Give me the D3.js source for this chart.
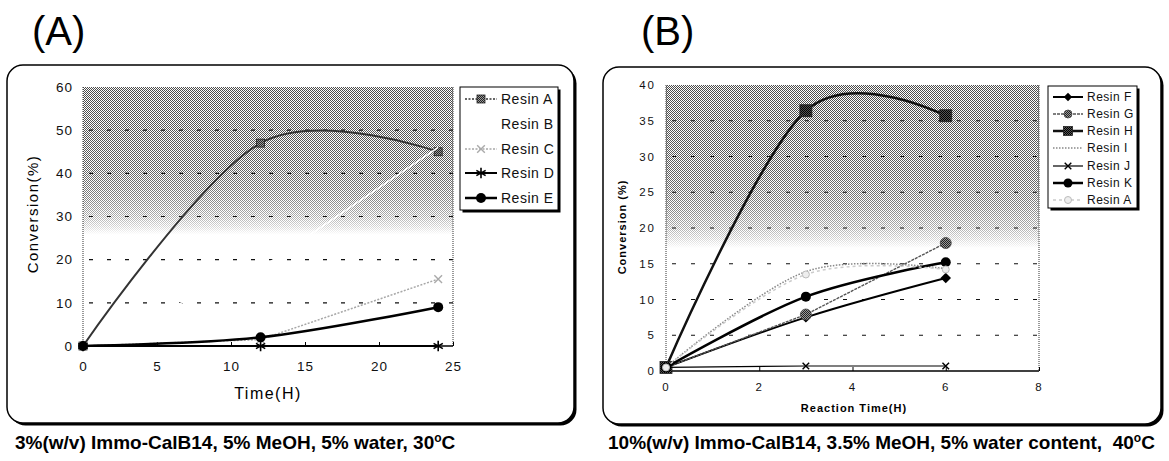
<!DOCTYPE html>
<html>
<head>
<meta charset="utf-8">
<script src="https://cdn.jsdelivr.net/npm/d3@7"></script>
<style>
  body { margin: 0; background: #fff; }
  svg { display: block; font-family: "Liberation Sans", Arial, sans-serif; }
</style>
</head>
<body>
<div id="chart"></div>
<script>
// ---- panel A data (time in hours) ----
const timeA = [0, 12, 24];
const resinA_A = [0, 47, 45];
const resinB_A = [0, 18, 46];
const resinC_A = [0, 1.5, 15.5];
const resinD_A = [0, 0, 0];
const resinE_A = [0, 2, 9];
const yTicksA = [0, 10, 20, 30, 40, 50, 60];
const xTicksA = [0, 5, 10, 15, 20, 25];

// ---- panel B data ----
const timeB = [0, 3, 6];
const resinF_B = [0.5, 7.5, 13];
const resinG_B = [0.5, 7.9, 17.9];
const resinH_B = [0.5, 36.4, 35.7];
const resinI_B = [0.5, 13.9, 14.3];
const resinJ_B = [0.5, 0.7, 0.7];
const resinK_B = [0.5, 10.4, 15.2];
const resinA_B = [0.5, 13.5, 14.2];
const yTicksB = [0, 5, 10, 15, 20, 25, 30, 35, 40];
const xTicksB = [0, 2, 4, 6, 8];

const W = 1169, H = 461;

const svg = d3.select("#chart")
  .append("svg")
  .attr("width", W)
  .attr("height", H);

const defs = svg.append("defs");

// dithered gray like the scanned excel background
const dith = defs.append("pattern")
  .attr("id", "dith").attr("width", 2).attr("height", 2)
  .attr("patternUnits", "userSpaceOnUse");
dith.append("rect").attr("width", 1).attr("height", 1).attr("fill", "#000");
dith.append("rect").attr("x", 1).attr("y", 1).attr("width", 1).attr("height", 1).attr("fill", "#000");

const hatch = defs.append("pattern")
  .attr("id", "hatch").attr("width", 2).attr("height", 2)
  .attr("patternUnits", "userSpaceOnUse");
hatch.append("rect").attr("width", 2).attr("height", 2).attr("fill", "#9a9a9a");
hatch.append("rect").attr("width", 1).attr("height", 1).attr("fill", "#222");
hatch.append("rect").attr("x", 1).attr("y", 1).attr("width", 1).attr("height", 1).attr("fill", "#222");

const hatchDark = defs.append("pattern")
  .attr("id", "hatchDark").attr("width", 2).attr("height", 2)
  .attr("patternUnits", "userSpaceOnUse");
hatchDark.append("rect").attr("width", 2).attr("height", 2).attr("fill", "#555");
hatchDark.append("rect").attr("width", 1).attr("height", 1).attr("fill", "#000");
hatchDark.append("rect").attr("x", 1).attr("y", 1).attr("width", 1).attr("height", 1).attr("fill", "#000");

const fade = defs.append("linearGradient")
  .attr("id", "fade").attr("x1", 0).attr("y1", 0).attr("x2", 0).attr("y2", 1);
[[0, "#b4b4b4"], [0.3, "#a0a0a0"], [0.42, "#808080"], [0.5, "#505050"],
 [0.54, "#282828"], [0.57, "#000"], [1, "#000"]].forEach(([o, c]) =>
  fade.append("stop").attr("offset", o).attr("stop-color", c));

const mask = defs.append("mask")
  .attr("id", "fadeMask")
  .attr("maskContentUnits", "objectBoundingBox");
mask.append("rect").attr("width", 1).attr("height", 1).attr("fill", "url(#fade)");

function marker(g, type, cx, cy, s) {
  if (type === "hsq" || type === "hsqDark") {
    g.append("rect")
      .attr("x", cx - s / 2).attr("y", cy - s / 2)
      .attr("width", s).attr("height", s)
      .attr("fill", type === "hsq" ? "url(#hatch)" : "url(#hatchDark)")
      .attr("stroke", "#222").attr("stroke-width", 0.8);
  } else if (type === "dot") {
    g.append("circle").attr("cx", cx).attr("cy", cy).attr("r", s / 2).attr("fill", "#000");
  } else if (type === "hcirc") {
    g.append("circle").attr("cx", cx).attr("cy", cy).attr("r", s / 2)
      .attr("fill", "url(#hatch)").attr("stroke", "#444").attr("stroke-width", 0.8);
  } else if (type === "ocirc") {
    g.append("circle").attr("cx", cx).attr("cy", cy).attr("r", s / 2)
      .attr("fill", "#eee").attr("stroke", "#bbb").attr("stroke-width", 1);
  } else if (type === "dia") {
    g.append("path")
      .attr("d", d3.symbol(d3.symbolSquare, s * s * 0.55)())
      .attr("transform", `translate(${cx},${cy}) rotate(45)`)
      .attr("fill", "#000");
  } else if (type === "star") {
    g.append("path")
      .attr("d", d3.symbol(d3.symbolAsterisk, s)())
      .attr("transform", `translate(${cx},${cy})`)
      .attr("fill", "none").attr("stroke", "#000").attr("stroke-width", 1.6);
  } else if (type === "times" || type === "timesLight") {
    g.append("path")
      .attr("d", d3.symbol(d3.symbolTimes, s)())
      .attr("transform", `translate(${cx},${cy})`)
      .attr("fill", "none")
      .attr("stroke", type === "times" ? "#000" : "#aaa")
      .attr("stroke-width", 1.4);
  }
}

function drawPanel(p) {
  const g = svg.append("g");

  // rounded frame with a heavy shadow on the right / bottom
  g.append("rect")
    .attr("x", p.frame[0] + 2.5).attr("y", p.frame[1] + 2.5)
    .attr("width", p.frame[2]).attr("height", p.frame[3])
    .attr("rx", 16).attr("fill", "#000");
  g.append("rect")
    .attr("x", p.frame[0]).attr("y", p.frame[1])
    .attr("width", p.frame[2]).attr("height", p.frame[3])
    .attr("rx", 16).attr("fill", "#fff")
    .attr("stroke", "#000").attr("stroke-width", 1.5);

  g.append("text")
    .attr("x", p.tagX).attr("y", 45)
    .attr("font-size", 40)
    .text(p.tag);

  const x = d3.scaleLinear().domain(p.xDomain).range([p.left, p.right]);
  const y = d3.scaleLinear().domain(p.yDomain).range([p.bottom, p.top]);

  // plot background
  g.append("rect")
    .attr("x", p.left).attr("y", p.top)
    .attr("width", p.right - p.left).attr("height", p.bottom - p.top)
    .attr("fill", "url(#dith)")
    .attr("mask", "url(#fadeMask)");

  // dashed grid
  g.selectAll(".grid")
    .data(p.yTicks.filter((d) => d > p.yDomain[0] && d < p.yDomain[1]))
    .join("line")
    .attr("x1", p.left + 6).attr("x2", p.right)
    .attr("y1", (d) => y(d)).attr("y2", (d) => y(d))
    .attr("stroke", "#111").attr("stroke-width", 1.2)
    .attr("stroke-dasharray", p.gridDash);

  // plot edges
  g.append("line")
    .attr("x1", p.right).attr("x2", p.right).attr("y1", p.top).attr("y2", p.bottom)
    .attr("stroke", "#333").attr("stroke-dasharray", "1,1");
  g.append("line")
    .attr("x1", p.left).attr("x2", p.left).attr("y1", p.top).attr("y2", p.bottom)
    .attr("stroke", "#333").attr("stroke-dasharray", "1,1");

  // axes
  const yAxis = g.append("g")
    .attr("transform", `translate(${p.left},0)`)
    .call(d3.axisLeft(y).tickValues(p.yTicks).tickSize(0).tickPadding(p.yPad));
  const xAxis = g.append("g")
    .attr("transform", `translate(0,${p.bottom})`)
    .call(d3.axisBottom(x).tickValues(p.xTicks).tickSize(-4).tickPadding(p.xPad));
  [yAxis, xAxis].forEach((a) => {
    a.select(".domain").remove();
    a.selectAll("text")
      .attr("font-family", "'Liberation Sans', Arial, sans-serif")
      .attr("font-size", p.tickFont)
      .attr("letter-spacing", p.tickSpacing)
      .attr("fill", "#111");
  });
  xAxis.selectAll("line").attr("stroke", "#000");
  g.append("line")
    .attr("x1", p.left).attr("x2", p.right).attr("y1", p.bottom).attr("y2", p.bottom)
    .attr("stroke", "#000").attr("stroke-width", 1.5);

  // axis titles
  g.append("text")
    .attr("x", p.xTitle[0]).attr("y", p.xTitle[1])
    .attr("text-anchor", "middle")
    .attr("font-size", p.xTitleFont)
    .attr("font-weight", p.titleWeight)
    .attr("letter-spacing", p.titleSpacing)
    .text(p.xLabel);
  g.append("text")
    .attr("transform", `translate(${p.yTitle[0]},${p.yTitle[1]}) rotate(-90)`)
    .attr("text-anchor", "middle")
    .attr("font-size", p.yTitleFont)
    .attr("font-weight", p.titleWeight)
    .attr("letter-spacing", p.titleSpacing)
    .text(p.yLabel);

  // series
  p.series.forEach((s) => {
    const pts = p.time.map((t, i) => [x(t), y(s.values[i])]);
    const line = d3.line().curve(s.smooth ? d3.curveCardinal.tension(0) : d3.curveLinear);
    g.append("path")
      .attr("d", line(pts))
      .attr("fill", "none")
      .attr("stroke", s.color)
      .attr("stroke-width", s.width)
      .attr("stroke-dasharray", s.dash || null);
    if (s.marker) pts.forEach(([cx, cy]) => marker(g, s.marker, cx, cy, s.size));
  });

  // legend
  const L = p.legend;
  g.append("rect")
    .attr("x", L.x + 2.5).attr("y", L.y + 2.5).attr("width", L.w).attr("height", L.h)
    .attr("fill", "#000");
  g.append("rect")
    .attr("x", L.x).attr("y", L.y).attr("width", L.w).attr("height", L.h)
    .attr("fill", "#fff").attr("stroke", "#000").attr("stroke-width", 1);
  p.series.forEach((s, i) => {
    const ly = L.rows[i];
    g.append("line")
      .attr("x1", L.x + 5).attr("x2", L.x + 5 + L.lineLen)
      .attr("y1", ly).attr("y2", ly)
      .attr("stroke", s.legendColor || s.color)
      .attr("stroke-width", s.legendWidth || s.width)
      .attr("stroke-dasharray", s.legendDash || s.dash || null);
    if (s.marker) marker(g, s.marker, L.x + 5 + L.lineLen / 2, ly, s.legendSize || s.size);
    g.append("text")
      .attr("x", L.x + 9 + L.lineLen).attr("y", ly)
      .attr("dy", "0.36em")
      .attr("font-size", L.font)
      .attr("letter-spacing", L.spacing)
      .attr("fill", "#111")
      .text(s.name);
  });

  // caption under the frame
  const cap = g.append("text")
    .attr("x", p.caption[0]).attr("y", p.caption[1])
    .attr("font-size", 19).attr("font-weight", "bold");
  cap.append("tspan").text(p.captionText);
  cap.append("tspan").attr("dy", -7).attr("font-size", 12).text("o");
  cap.append("tspan").attr("dy", 7).text("C");
}

drawPanel({
  tag: "(A)", tagX: 32,
  frame: [7, 65, 567, 358],
  left: 83, right: 453, top: 87, bottom: 346,
  xDomain: [0, 25], yDomain: [0, 60],
  xTicks: xTicksA, yTicks: yTicksA,
  yPad: 10, xPad: 15, tickFont: 13.5, tickSpacing: 1,
  gridDash: "4,14",
  time: timeA,
  xLabel: "Time(H)", yLabel: "Conversion(%)",
  xTitle: [268, 399], yTitle: [38, 214],
  xTitleFont: 16, yTitleFont: 15, titleWeight: "normal", titleSpacing: 1.5,
  series: [
    { name: "Resin A", values: resinA_A, smooth: true, color: "#333", width: 2,
      marker: "hsq", size: 8, legendDash: "2,1.5", legendWidth: 1.5 },
    { name: "Resin B", values: resinB_A, color: "#fff", width: 1.5 },
    { name: "Resin C", values: resinC_A, color: "#a8a8a8", width: 1.5, dash: "2,1.5",
      marker: "timesLight", size: 40 },
    { name: "Resin D", values: resinD_A, color: "#000", width: 2, marker: "star", size: 80 },
    { name: "Resin E", values: resinE_A, smooth: true, color: "#000", width: 2.5,
      marker: "dot", size: 10 }
  ],
  legend: { x: 460, y: 87, w: 98, h: 123, rows: [99, 124, 149, 173, 198],
    lineLen: 32, font: 14, spacing: 0.5 },
  caption: [15, 449],
  captionText: "3%(w/v) Immo-CalB14, 5% MeOH, 5% water, 30"
});

drawPanel({
  tag: "(B)", tagX: 641,
  frame: [603, 67, 558, 357],
  left: 666, right: 1039, top: 85, bottom: 371,
  xDomain: [0, 8], yDomain: [0, 40],
  xTicks: xTicksB, yTicks: yTicksB,
  yPad: 10, xPad: 12, tickFont: 11.5, tickSpacing: 2,
  gridDash: "4,15",
  time: timeB,
  xLabel: "Reaction Time(H)", yLabel: "Conversion (%)",
  xTitle: [854, 412], yTitle: [626, 227],
  xTitleFont: 11, yTitleFont: 11, titleWeight: "bold", titleSpacing: 1,
  series: [
    { name: "Resin F", values: resinF_B, smooth: true, color: "#000", width: 2,
      marker: "dia", size: 10, legendSize: 8 },
    { name: "Resin G", values: resinG_B, color: "#555", width: 1.4, dash: "3,1",
      marker: "hcirc", size: 11, legendSize: 8 },
    { name: "Resin H", values: resinH_B, smooth: true, color: "#111", width: 2.5,
      marker: "hsqDark", size: 12, legendSize: 9 },
    { name: "Resin I", values: resinI_B, smooth: true, color: "#888", width: 1.5, dash: "1.5,1.5" },
    { name: "Resin J", values: resinJ_B, color: "#000", width: 1.2, marker: "times", size: 30 },
    { name: "Resin K", values: resinK_B, smooth: true, color: "#000", width: 2.5,
      marker: "dot", size: 10, legendSize: 9 },
    { name: "Resin A", values: resinA_B, smooth: true, color: "#ccc", width: 1.5, dash: "3,3",
      marker: "ocirc", size: 7 }
  ],
  legend: { x: 1048, y: 86, w: 89, h: 122, rows: [97, 114, 131, 148, 166, 183, 200],
    lineLen: 30, font: 12, spacing: 0.5 },
  caption: [608, 449],
  captionText: "10%(w/v) Immo-CalB14, 3.5% MeOH, 5% water content,\u00a0 40"
});
</script>
</body>
</html>
